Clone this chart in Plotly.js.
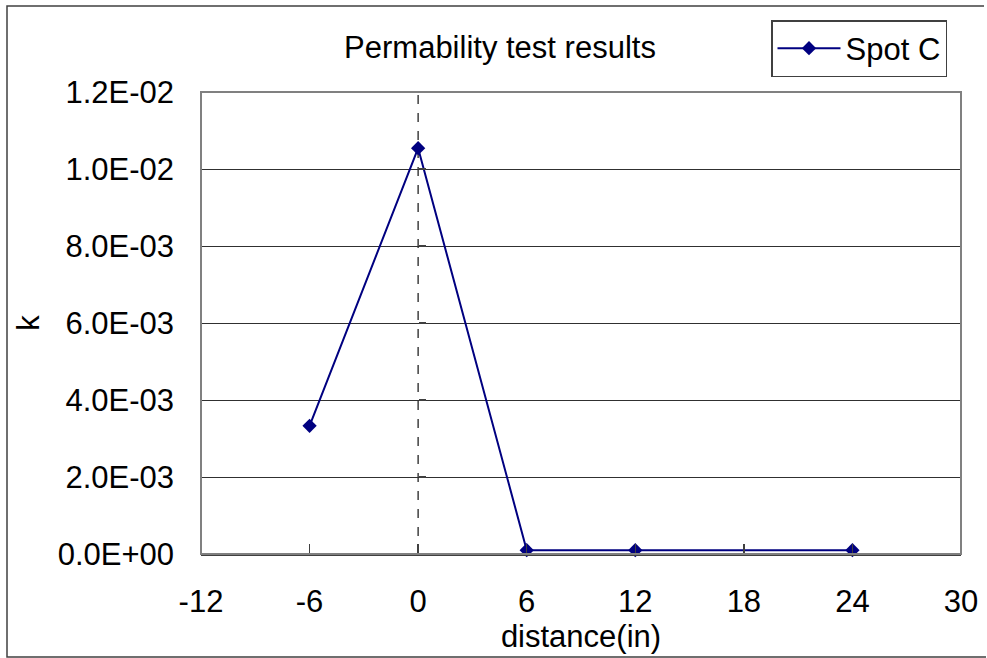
<!DOCTYPE html>
<html>
<head>
<meta charset="utf-8">
<script src="https://cdn.plot.ly/plotly-3.0.1.min.js"></script>
<style>
  html, body { margin: 0; padding: 0; background: #ffffff; }
  #chart { width: 987px; height: 658px; }
</style>
</head>
<body>
<div id="chart"></div>
<script>
// Permeability measurements for spot C
const distanceIn = [-6, 0, 6, 12, 24];
const kValues = [3.33e-3, 1.054e-2, 1.0e-4, 1.0e-4, 1.0e-4];
const seriesName = 'Spot C';

const xTickVals = [-12, -6, 0, 6, 12, 18, 24, 30];
const xTickText = ['-12', '-6', '0', '6', '12', '18', '24', '30'];
const yTickVals = [0, 0.002, 0.004, 0.006, 0.008, 0.010, 0.012];
const yTickText = ['0.0E+00', '2.0E-03', '4.0E-03', '6.0E-03', '8.0E-03', '1.0E-02', '1.2E-02'];

const FONT = 'Liberation Sans, Arial, sans-serif';
const FS = 31;
const W = 987, H = 658;
const M = { l: 201, r: 26, t: 92, b: 104 };
const pw = W - M.l - M.r, ph = H - M.t - M.b;
// pixel -> paper helpers for the outer chart frame
const px = v => (v - M.l) / pw;
const py = v => (H - M.b - v) / ph;

const xRange = [-12, 30];
const yAxisFrac = (0 - xRange[0]) / (xRange[1] - xRange[0]);

const trace = {
  x: distanceIn,
  y: kValues,
  name: seriesName,
  type: 'scatter',
  mode: 'lines+markers',
  line: { color: '#000080', width: 2 },
  marker: { symbol: 'diamond', size: 11, color: '#000080' },
  cliponaxis: false
};

const frame = `M ${px(984)} ${py(6)} L ${px(7)} ${py(6)} L ${px(7)} ${py(657)} L ${px(986)} ${py(657)}`;

const layout = {
  width: W, height: H,
  margin: M,
  paper_bgcolor: '#ffffff',
  plot_bgcolor: '#ffffff',
  font: { family: FONT, size: FS, color: '#000000' },
  showlegend: true,
  title: {
    text: 'Permability test results',
    font: { family: FONT, size: FS, color: '#000000' },
    xref: 'paper', x: px(500), xanchor: 'center',
    yref: 'container', y: 1 - 47 / H, yanchor: 'middle'
  },
  legend: {
    x: px(771), y: py(20), xanchor: 'left', yanchor: 'top',
    bgcolor: '#ffffff', bordercolor: '#404040', borderwidth: 1.5,
    itemwidth: 63,
    font: { family: FONT, size: FS, color: '#000000' }
  },
  xaxis: {
    range: xRange,
    tickvals: xTickVals,
    ticktext: xTickText,
    ticks: 'inside', ticklen: 10, tickwidth: 1.5, tickcolor: '#404040',
    showgrid: false, zeroline: false,
    showline: true, linecolor: '#404040', linewidth: 2,
    tickfont: { family: FONT, size: FS },
    ticklabelstandoff: 19,
    title: { text: 'distance(in)', font: { family: FONT, size: FS }, standoff: 0 }
  },
  yaxis: {
    range: [0, 0.012],
    tickvals: yTickVals,
    ticktext: yTickText,
    ticks: '', showline: false, zeroline: false,
    showgrid: true, gridcolor: '#303030', gridwidth: 1,
    tickfont: { family: FONT, size: FS },
    ticklabelstandoff: 26,
    title: { text: 'k', font: { family: FONT, size: FS }, standoff: 8 }
  },
  // value axis crossing at x = 0: tick marks only
  yaxis2: {
    overlaying: 'y', matches: 'y', anchor: 'free', position: yAxisFrac, side: 'left',
    range: [0, 0.012], tickvals: yTickVals,
    ticks: 'inside', ticklen: 7, tickwidth: 1.5, tickcolor: '#404040',
    showticklabels: false, showgrid: false, showline: false, zeroline: false
  },
  shapes: [
    { type: 'line', xref: 'x', yref: 'paper', x0: 0, x1: 0, y0: 0, y1: 1,
      line: { color: '#404040', width: 1.5, dash: 'dash' }, layer: 'below' },
    { type: 'rect', xref: 'paper', yref: 'paper', x0: 0, x1: 1, y0: 0, y1: 1,
      line: { color: '#808080', width: 2 }, layer: 'above' },
    { type: 'path', xref: 'paper', yref: 'paper', path: frame,
      line: { color: '#404040', width: 1.5 } }
  ]
};

const helper = { x: [0], y: [0], yaxis: 'y2', type: 'scatter', mode: 'none',
  showlegend: false, hoverinfo: 'skip' };

Plotly.newPlot('chart', [helper, trace], layout, { displayModeBar: false, staticPlot: true });
</script>
</body>
</html>
